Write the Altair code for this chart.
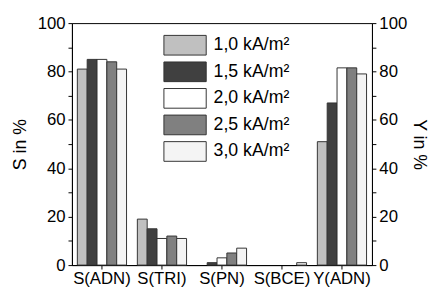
import altair as alt
import pandas as pd

categories = ["S(ADN)", "S(TRI)", "S(PN)", "S(BCE)", "Y(ADN)"]
series = ["1,0 kA/m²", "1,5 kA/m²", "2,0 kA/m²", "2,5 kA/m²", "3,0 kA/m²"]
v10 = [81, 19, 0, 0, 51]
v15 = [85, 15, 1, 0, 67]
v20 = [85, 11, 3, 0, 81.5]
v25 = [84, 12, 5, 0, 81.5]
v30 = [81, 11, 7, 1, 79]
colors = ["#c0c0c0", "#404040", "#ffffff", "#808080", "#f4f4f4"]
y_ticks = [0, 10, 20, 30, 40, 50, 60, 70, 80, 90, 100]

rows = []
for s, vals in zip(series, [v10, v15, v20, v25, v30]):
    for c, v in zip(categories, vals):
        rows.append({"cat": c, "series": s, "value": v})
df = pd.DataFrame(rows)

FONT = "Liberation Sans"
FS = 17

x_enc = alt.X(
    "cat:N",
    sort=categories,
    scale=alt.Scale(paddingInner=0.18, paddingOuter=0.09),
    axis=alt.Axis(title=None, labelAngle=0, tickSize=4, labelOverlap=False,
                  labelPadding=2, labelFontSize=FS),
)
y_scale = alt.Scale(domain=[0, 100], nice=False)

bars = alt.Chart(df).transform_filter("datum.value > 0").mark_bar(
    stroke="#333333", strokeWidth=1
).encode(
    x=x_enc,
    xOffset=alt.XOffset("series:N", sort=series, scale=alt.Scale(domain=series)),
    y=alt.Y("value:Q", scale=y_scale,
            axis=alt.Axis(orient="left", title="S in %", values=y_ticks,
                          labelExpr="datum.value % 20 == 0 ? datum.label : ''",
                          tickSize=4, labelPadding=3, grid=False,
                          titleX=-52, titleY=123, titleAngle=-90,
                          titleAlign="center", titleBaseline="middle",
                          titleFontWeight="normal", titleFontSize=18)),
    fill=alt.Fill("series:N", sort=series,
                  scale=alt.Scale(domain=series, range=colors),
                  legend=alt.Legend(title=None, orient="none", legendX=93, legendY=12,
                                    symbolType="M-1,-1L3.3,-1L3.3,1L-1,1Z",
                                    symbolSize=400, symbolStrokeColor="#333333",
                                    symbolStrokeWidth=1, symbolOpacity=1,
                                    labelOffset=30, labelFontSize=18, rowPadding=2,
                                    padding=0)),
)

right = alt.Chart(df).mark_bar(opacity=0).encode(
    x=x_enc,
    y=alt.Y("value:Q", scale=y_scale,
            axis=alt.Axis(orient="right", title="Y in %", values=y_ticks,
                          labelExpr="datum.value % 20 == 0 ? datum.label : ''",
                          tickSize=4, labelPadding=3, grid=False,
                          titleX=47, titleY=123, titleAngle=90,
                          titleAlign="center", titleBaseline="middle",
                          titleFontWeight="normal", titleFontSize=18)),
)

chart = alt.layer(bars, right).resolve_axis(y="independent").properties(
    width=305, height=246,
    autosize=alt.AutoSizeParams(type="none"),
    padding={"left": 65, "top": 13, "right": 59, "bottom": 25},
).configure(font=FONT).configure_view(
    stroke="black", strokeWidth=1
).configure_axis(
    domainColor="black", tickColor="black", labelColor="black", titleColor="black",
    labelFont=FONT, titleFont=FONT, labelFontSize=FS, domainWidth=1, tickWidth=1,
).configure_legend(labelFont=FONT, labelColor="black")

chart.save("out.html", embed_options={"renderer": "svg", "actions": False})
